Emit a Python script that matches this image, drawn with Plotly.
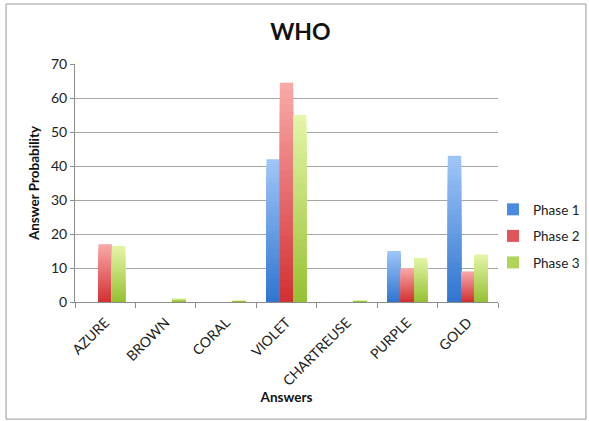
import plotly.graph_objects as go

# Chart data
answers = ["AZURE", "BROWN", "CORAL", "VIOLET", "CHARTREUSE", "PURPLE", "GOLD"]
phase_names = ["Phase 1", "Phase 2", "Phase 3"]
phase1 = [0, 0, 0, 42, 0, 15, 43]
phase2 = [17, 0, 0, 64.5, 0, 10, 9]
phase3 = [16.5, 1, 0.3, 55, 0.3, 13, 14]
y_ticks = [0, 10, 20, 30, 40, 50, 60, 70]

# Gradient end colours for each phase (bottom, top)
gradients = [
    ((46, 117, 208), (160, 198, 248)),
    ((210, 48, 50), (250, 170, 170)),
    ((150, 192, 50), (228, 246, 168)),
]
legend_colors = ["#4a8ae0", "#e05558", "#b0d45a"]

N_LAYERS = 30


def mix(c0, c1, t):
    return "rgb(%d,%d,%d)" % tuple(round(a + (b - a) * t) for a, b in zip(c0, c1))


fig = go.Figure()

for idx, (name, values) in enumerate(zip(phase_names, [phase1, phase2, phase3])):
    bottom, top = gradients[idx]
    # stacked overlays of decreasing height give a vertical gradient fill
    for k in range(N_LAYERS, 0, -1):
        frac = k / N_LAYERS
        fig.add_trace(go.Bar(
            x=answers,
            y=[v * frac for v in values],
            name=name,
            offsetgroup=str(idx),
            legendgroup=name,
            showlegend=False,
            marker=dict(color=mix(bottom, top, (k - 0.5) / N_LAYERS), line=dict(width=0)),
            hoverinfo="skip",
        ))
    # legend entry
    fig.add_trace(go.Bar(
        x=answers,
        y=[0 for _ in values],
        name=name,
        offsetgroup=str(idx),
        legendgroup=name,
        showlegend=True,
        marker=dict(color=legend_colors[idx], line=dict(width=0)),
        hoverinfo="skip",
    ))

font_family = "Lato, 'Open Sans', sans-serif"

fig.update_layout(
    width=589,
    height=421,
    barmode="group",
    bargap=0.34,
    bargroupgap=0,
    paper_bgcolor="white",
    plot_bgcolor="white",
    margin=dict(l=75, r=91, t=64, b=119, autoexpand=False),
    font=dict(family=font_family, color="#222222"),
    title=dict(
        text="<b>WHO</b>",
        x=0.51,
        xanchor="center",
        y=0.925,
        yanchor="middle",
        font=dict(size=23, color="#111111", family=font_family),
    ),
    legend=dict(
        x=1.0 - 5 / 423,
        y=0.277,
        xref="paper",
        xanchor="left",
        yanchor="middle",
        font=dict(size=13.5, color="#222222"),
        itemwidth=30,
        tracegroupgap=6,
        bgcolor="rgba(0,0,0,0)",
    ),
    showlegend=True,
)

fig.update_xaxes(
    type="category",
    tickangle=-45,
    tickfont=dict(size=14, color="#222222"),
    ticklabelstandoff=6,
    showline=True,
    linecolor="#8c8c8c",
    linewidth=1,
    ticks="outside",
    tickson="boundaries",
    ticklen=5,
    tickcolor="#8c8c8c",
    showgrid=False,
    automargin=False,
    title=dict(text="<b>Answers</b>", font=dict(size=13.5, color="#111111"), standoff=2),
)

fig.update_yaxes(
    range=[0, 70],
    tickvals=y_ticks,
    tickfont=dict(size=14, color="#222222"),
    showline=True,
    linecolor="#8c8c8c",
    linewidth=1,
    ticks="outside",
    ticklen=4,
    tickcolor="#8c8c8c",
    showgrid=True,
    gridcolor="#a6a6a6",
    gridwidth=1,
    zeroline=False,
    automargin=False,
    title=dict(text="<b>Answer Probability</b>", font=dict(size=13.5, color="#111111"), standoff=8),
)

# outer frame around the whole chart
fig.add_shape(
    type="rect",
    xref="paper", yref="paper",
    x0=-0.163, x1=1.208, y0=-0.492, y1=1.252,
    line=dict(color="#9a9a9a", width=1),
    fillcolor="rgba(0,0,0,0)",
    layer="below",
)

fig.write_html("out.html")
